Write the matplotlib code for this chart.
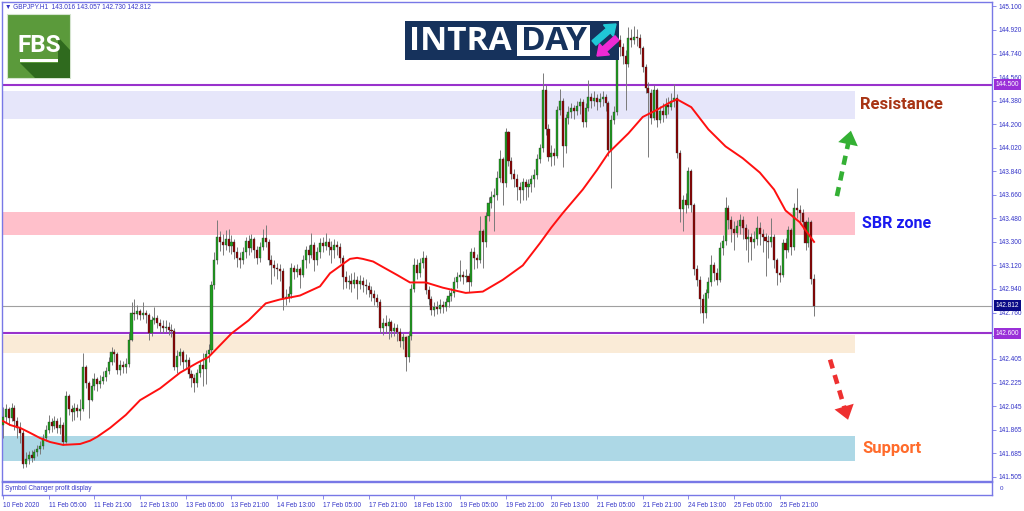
import numpy as np
import matplotlib
matplotlib.use('Agg')
import matplotlib.pyplot as plt
from matplotlib.patches import Rectangle, Polygon, FancyArrow
from matplotlib.transforms import blended_transform_factory

plt.rcParams['font.family'] = ['Liberation Sans', 'DejaVu Sans']

# ---- GBPJPY H1 candles, open of bar i = close of bar i-1
first_open = 141.90
closes = [
    141.96, 142.02, 141.95, 142.03, 141.93, 141.88, 141.84, 141.60, 141.64, 141.67,
    141.65, 141.69, 141.72, 141.74, 141.80, 141.86, 141.92, 141.89, 141.93, 141.88,
    141.90, 141.77, 142.12, 142.02, 142.00, 142.03, 142.01, 142.02, 142.34, 142.22,
    142.09, 142.20, 142.25, 142.21, 142.24, 142.27, 142.31, 142.38, 142.46, 142.44,
    142.32, 142.36, 142.34, 142.37, 142.55, 142.76, 142.75, 142.77, 142.74, 142.76,
    142.74, 142.60, 142.70, 142.72, 142.68, 142.66, 142.64, 142.65, 142.63, 142.62,
    142.34, 142.43, 142.46, 142.38, 142.40, 142.29, 142.26, 142.22, 142.30, 142.36,
    142.33, 142.44, 142.47, 142.97, 143.16, 143.34, 143.30, 143.28, 143.32, 143.27,
    143.30, 143.22, 143.18, 143.16, 143.22, 143.31, 143.25, 143.32, 143.24, 143.18,
    143.26, 143.33, 143.30, 143.16, 143.12, 143.10, 143.09, 143.08, 142.87, 142.88,
    142.90, 143.10, 143.07, 143.09, 143.05, 143.16, 143.24, 143.20, 143.28, 143.16,
    143.22, 143.29, 143.27, 143.30, 143.26, 143.24, 143.28, 143.26, 143.18, 143.03,
    142.99, 143.00, 142.98, 143.01, 142.98, 143.00, 142.97, 142.96, 142.93, 142.90,
    142.87, 142.84, 142.64, 142.68, 142.66, 142.69, 142.62, 142.64, 142.61, 142.54,
    142.57, 142.42, 142.58, 142.94, 143.12, 143.06, 143.14, 143.18, 142.93, 142.86,
    142.78, 142.80, 142.79, 142.82, 142.80, 142.84, 142.89, 142.91, 142.99, 143.03,
    143.05, 143.03, 143.04, 142.99, 143.22, 143.18, 143.16, 143.38, 143.30, 143.50,
    143.60, 143.64, 143.66, 143.79, 143.93, 143.75, 144.14, 143.92, 143.82, 143.78,
    143.72, 143.70, 143.76, 143.72, 143.74, 143.78, 143.81, 143.93, 144.02, 144.46,
    144.16, 143.95, 143.98, 143.96, 144.31, 144.38, 144.03, 144.25, 144.29, 144.32,
    144.30, 144.34, 144.37, 144.22, 144.32, 144.41, 144.38, 144.40, 144.37, 144.39,
    144.41, 144.36, 144.00, 144.23, 144.29, 144.84, 144.79, 144.72, 144.66, 144.86,
    144.84, 144.87, 144.86, 144.78, 144.64, 144.48, 144.44, 144.25, 144.46, 144.23,
    144.30, 144.27, 144.35, 144.33, 144.38, 144.40, 143.98, 143.55, 143.62, 143.58,
    143.84, 143.58, 143.09, 143.01, 142.86, 142.76, 142.91, 142.99, 143.12, 143.06,
    143.01, 143.25, 143.31, 143.56, 143.47, 143.40, 143.37, 143.42, 143.47, 143.41,
    143.32, 143.34, 143.30, 143.32, 143.41, 143.36, 143.34, 143.31, 143.30, 143.34,
    143.16, 143.06, 143.05, 143.29, 143.24, 143.39, 143.26, 143.56, 143.54, 143.52,
    143.45, 143.29, 143.45, 143.016, 142.812,
]
highs = [
    142.04, 142.06, 142.04, 142.07, 142.05, 141.96, 141.92, 141.86, 141.69, 141.70,
    141.71, 141.72, 141.75, 141.78, 141.83, 141.90, 141.98, 141.95, 141.97, 141.95,
    141.96, 141.92, 142.16, 142.14, 142.05, 142.07, 142.06, 142.10, 142.45, 142.36,
    142.24, 142.26, 142.30, 142.27, 142.28, 142.31, 142.34, 142.42, 142.50, 142.48,
    142.46, 142.40, 142.39, 142.41, 142.60, 142.84, 142.86, 142.82, 142.79, 142.84,
    142.78, 142.76, 142.73, 142.80, 142.74, 142.71, 142.70, 142.70, 142.69, 142.67,
    142.64, 142.47, 142.49, 142.47, 142.44, 142.42, 142.32, 142.29, 142.33, 142.39,
    142.45, 142.47, 142.52, 143.00, 143.22, 143.47, 143.38, 143.36, 143.39, 143.40,
    143.35, 143.32, 143.26, 143.22, 143.26, 143.34, 143.35, 143.36, 143.34, 143.27,
    143.30, 143.40, 143.43, 143.32, 143.20, 143.16, 143.14, 143.13, 143.10, 142.94,
    142.96, 143.14, 143.12, 143.13, 143.11, 143.20, 143.27, 143.28, 143.37, 143.30,
    143.26, 143.33, 143.34, 143.37, 143.33, 143.31, 143.32, 143.31, 143.29, 143.20,
    143.08, 143.05, 143.06, 143.07, 143.04, 143.05, 143.03, 143.02, 142.99, 142.96,
    142.93, 142.90, 142.86, 142.72, 142.74, 142.72, 142.70, 142.68, 142.67, 142.64,
    142.60, 142.58, 142.62, 142.98, 143.18, 143.17, 143.18, 143.23, 143.20, 142.96,
    142.89, 142.84, 142.85, 142.86, 142.85, 142.87, 142.93, 142.95, 143.03, 143.07,
    143.16, 143.08, 143.09, 143.06, 143.25, 143.26, 143.21, 143.50, 143.40, 143.53,
    143.64, 143.69, 143.71, 143.84, 144.00, 143.95, 144.17, 144.15, 143.95, 143.86,
    143.82, 143.76, 143.79, 143.78, 143.78, 143.81, 143.86, 143.97, 144.05, 144.59,
    144.50, 144.20, 144.04, 144.02, 144.34, 144.47, 144.40, 144.28, 144.34, 144.36,
    144.35, 144.38, 144.40, 144.39, 144.36, 144.54, 144.44, 144.45, 144.43, 144.44,
    144.45, 144.43, 144.38, 144.27, 144.34, 144.90, 144.88, 144.82, 144.77, 144.94,
    144.93, 144.95, 144.93, 144.89, 144.80, 144.66, 144.52, 144.47, 144.50, 144.48,
    144.34, 144.36, 144.40, 144.41, 144.44, 144.51, 144.43, 144.00, 143.66, 143.67,
    143.87, 143.86, 143.60, 143.12, 143.04, 142.90, 142.94, 143.03, 143.20, 143.15,
    143.10, 143.30, 143.35, 143.64, 143.58, 143.50, 143.46, 143.47, 143.51, 143.50,
    143.44, 143.40, 143.37, 143.38, 143.50, 143.45, 143.40, 143.37, 143.35, 143.48,
    143.36, 143.18, 143.12, 143.32, 143.33, 143.42, 143.41, 143.60, 143.71, 143.58,
    143.55, 143.47, 143.49, 143.47, 143.057,
]
lows = [
    141.80, 141.92, 141.90, 141.93, 141.86, 141.80, 141.76, 141.57, 141.58, 141.60,
    141.62, 141.63, 141.66, 141.68, 141.72, 141.78, 141.84, 141.85, 141.87, 141.84,
    141.83, 141.75, 141.76, 141.98, 141.93, 141.94, 141.96, 141.94, 142.01, 142.18,
    141.95, 142.08, 142.17, 142.16, 142.18, 142.21, 142.24, 142.29, 142.36, 142.38,
    142.29, 142.28, 142.30, 142.30, 142.34, 142.54, 142.70, 142.71, 142.70, 142.71,
    142.68, 142.55, 142.58, 142.67, 142.64, 142.61, 142.60, 142.61, 142.59, 142.57,
    142.32, 142.30, 142.36, 142.33, 142.33, 142.26, 142.19, 142.15, 142.19, 142.27,
    142.20, 142.21, 142.38, 142.44, 142.94, 143.13, 143.23, 143.20, 143.24, 143.22,
    143.21, 143.17, 143.11, 143.10, 143.13, 143.18, 143.20, 143.22, 143.18, 143.13,
    143.15, 143.24, 143.26, 143.12, 142.98, 143.04, 143.02, 143.00, 142.78, 142.82,
    142.84, 142.87, 143.02, 143.03, 142.95, 143.03, 143.10, 143.14, 143.18, 143.08,
    143.12, 143.18, 143.22, 143.24, 143.20, 143.14, 143.18, 143.20, 143.14, 142.94,
    142.95, 142.94, 142.92, 142.95, 142.86, 142.94, 142.92, 142.90, 142.88, 142.85,
    142.82, 142.80, 142.60, 142.59, 142.60, 142.56, 142.57, 142.58, 142.54, 142.50,
    142.48, 142.31, 142.38, 142.55, 142.92, 143.02, 143.03, 143.10, 142.90, 142.82,
    142.74, 142.73, 142.75, 142.76, 142.76, 142.77, 142.80, 142.85, 142.88, 142.95,
    143.00, 142.98, 142.99, 142.92, 142.96, 143.09, 143.10, 143.14, 143.10, 143.26,
    143.46, 143.56, 143.38, 143.62, 143.76, 143.58, 143.72, 143.88, 143.78, 143.72,
    143.62, 143.60, 143.62, 143.62, 143.64, 143.68, 143.72, 143.78, 143.90, 143.99,
    144.12, 143.92, 143.88, 143.89, 143.94, 144.27, 143.87, 143.98, 144.20, 144.25,
    144.24, 144.27, 144.28, 144.18, 144.18, 144.30, 144.32, 144.34, 144.31, 144.33,
    144.34, 144.30, 143.96, 143.71, 144.20, 144.27, 144.72, 144.66, 144.31, 144.64,
    144.79, 144.81, 144.80, 144.74, 144.60, 144.44, 143.95, 144.20, 144.23, 144.18,
    144.21, 144.22, 144.25, 144.28, 144.31, 144.33, 143.94, 143.45, 143.38, 143.52,
    143.56, 143.53, 143.05, 142.96, 142.76, 142.68, 142.72, 142.87, 142.96, 143.00,
    142.97, 142.99, 143.20, 143.28, 143.40, 143.30, 143.24, 143.34, 143.36, 143.32,
    143.24, 143.15, 143.16, 143.25, 143.28, 143.28, 143.22, 143.04, 143.18, 143.26,
    143.10, 142.97, 142.99, 143.03, 143.18, 143.22, 143.20, 143.24, 143.48, 143.44,
    143.40, 143.24, 143.26, 142.98, 142.730,
]

# moving average (red line), read at a set of bars
ma_bar = [0, 2.5, 6, 9.5, 13, 16.5, 21, 27, 30.5, 33,
          37.5, 43, 48, 55, 62, 68, 72, 80, 86, 92,
          97, 104, 111, 114.5, 118, 121.5, 124, 126, 129.6, 133,
          138, 142.5, 148, 154, 162, 168, 175, 182, 188, 192,
          196, 203, 208, 212, 219, 224, 229, 233, 236, 241,
          247, 253, 259, 265, 270, 274, 279, 284]
ma_val = [141.93, 141.90, 141.878, 141.84, 141.80, 141.77, 141.748, 141.755, 141.78, 141.81,
          141.878, 141.977, 142.09, 142.18, 142.30, 142.375, 142.42, 142.60, 142.70, 142.83,
          142.86, 142.89, 142.96, 143.06, 143.115, 143.17, 143.178, 143.17, 143.15, 143.108,
          143.047, 142.99, 142.99, 142.95, 142.91, 142.92, 143.01, 143.12, 143.29, 143.41,
          143.52, 143.70, 143.85, 143.98, 144.13, 144.255, 144.31, 144.36, 144.39, 144.33,
          144.16, 144.03, 143.94, 143.83, 143.70, 143.54, 143.45, 143.30]

# zones and levels
resistance_zone = (144.240, 144.454)
sbr_zone = (143.353, 143.530)
peach_zone = (142.451, 142.589)
support_zone = (141.625, 141.816)
level_high = 144.500
level_low = 142.600
last_price = 142.812

ytick_vals = [145.100, 144.920, 144.740, 144.560, 144.380, 144.200, 144.020, 143.840,
              143.660, 143.480, 143.300, 143.120, 142.940, 142.760, 142.580, 142.405,
              142.225, 142.045, 141.865, 141.685, 141.505]
# the 142.580 label sits under the 142.600 level box
ytick_text = ['%.3f' % v if v != 142.580 else '' for v in ytick_vals]
xtick_labels = ['10 Feb 2020', '11 Feb 05:00', '11 Feb 21:00', '12 Feb 13:00',
                '13 Feb 05:00', '13 Feb 21:00', '14 Feb 13:00', '17 Feb 05:00',
                '17 Feb 21:00', '18 Feb 13:00', '19 Feb 05:00', '19 Feb 21:00',
                '20 Feb 13:00', '21 Feb 05:00', '21 Feb 21:00', '24 Feb 13:00',
                '25 Feb 05:00', '25 Feb 21:00']
xtick_bars = list(range(0, 16 * len(xtick_labels), 16))

frame_c = '#7878e6'
text_c = '#3434c8'

W, H = 1024, 511
fig = plt.figure(figsize=(W / 100, H / 100), dpi=100)


def px_axes(x0, y0, x1, y1, **kw):
    return fig.add_axes([x0 / W, 1 - y1 / H, (x1 - x0) / W, (y1 - y0) / H], **kw)


ax = px_axes(2, 2, 992, 481)
xlim = (-0.35, 346.3)
ylim = (141.472, 145.134)
ax.set_xlim(xlim)
ax.set_ylim(ylim)

c = np.array(closes)
o = np.array([first_open] + closes[:-1])
hi = np.array(highs)
lo = np.array(lows)
x = np.arange(len(c))

# zones
zone_right = 298.3
for (z0, z1), col in [(resistance_zone, '#e6e6fa'), (sbr_zone, '#ffc0cb'),
                      (peach_zone, '#faebd7'), (support_zone, '#add8e6')]:
    ax.fill_between([xlim[0], zone_right], z0, z1, color=col, lw=0, zorder=0.5)

ax.axhline(level_high, color='#9932cc', lw=1.5, zorder=1.5)
ax.axhline(level_low, color='#9932cc', lw=1.5, zorder=1.5)
ax.axhline(last_price, color='#a0a0a0', lw=0.8, zorder=1.4)

# candles
ax.vlines(x, lo, hi, colors='#7a7a7a', lw=0.7, zorder=2)
up = c >= o
body = np.maximum(np.abs(c - o), 0.006)
ax.bar(x, body, bottom=np.minimum(o, c), width=0.72,
       color=np.where(up, '#1e9e1e', '#8e0000'), edgecolor='#303030', linewidth=0.25,
       zorder=3)

ax.plot(ma_bar, ma_val, color='#ff1010', lw=1.4, zorder=4, solid_joinstyle='round')

# labels of the zones
ax.text(300.1, np.mean(resistance_zone), 'Resistance', family='Roboto', fontweight='bold',
        fontsize=12, color='#a83414', va='center', ha='left', zorder=6)
ax.text(300.8, np.mean(sbr_zone), 'SBR zone', family='Roboto', fontweight='bold',
        fontsize=11.5, color='#1a1af0', va='center', ha='left', zorder=6)
ax.text(300.8, np.mean(support_zone), 'Support', family='Roboto', fontweight='bold',
        fontsize=12, color='#ff6b2b', va='center', ha='left', zorder=6)


def dashed_arrow(x0, y0, x1, y1, col):
    xm, ym = x0 + 0.84 * (x1 - x0), y0 + 0.84 * (y1 - y0)
    ax.plot([x0, xm], [y0, ym], color=col, lw=3.3, ls=(0, (2.0, 1.5)), zorder=6,
            solid_capstyle='butt', dash_capstyle='butt')
    ax.annotate('', xy=(x1, y1), xytext=(xm, ym), zorder=6,
                arrowprops=dict(arrowstyle='-|>,head_length=0.55,head_width=0.4',
                                color=col, lw=0, mutation_scale=18, shrinkA=0, shrinkB=0))


dashed_arrow(292.0, 143.65, 296.9, 144.15, '#34b034')
dashed_arrow(289.6, 142.40, 295.9, 141.94, '#ee3030')

# axes styling
for s in ax.spines.values():
    s.set_color(frame_c)
    s.set_linewidth(1.0)
ax.set_xticks([])
ax.yaxis.tick_right()
ax.set_yticks(ytick_vals)
ax.set_yticklabels(ytick_text)
ax.tick_params(axis='y', direction='out', length=3, width=0.6, color=frame_c,
               labelcolor=text_c, labelsize=4.7, pad=1.5)

tr = blended_transform_factory(ax.transAxes, ax.transData)
for val, fc in [(level_high, '#9a30d8'), (level_low, '#9a30d8'), (last_price, '#0a0a86')]:
    ax.text(1.0035, val, '%.3f' % val, transform=tr, ha='left', va='center', fontsize=4.7,
            color='white', zorder=10, clip_on=False,
            bbox=dict(boxstyle='square,pad=0.3', fc=fc, ec='none'))

# sub window with the time axis
sub = px_axes(2, 482, 992, 495)
sub.set_xlim(xlim)
sub.set_ylim(0, 1)
for s in sub.spines.values():
    s.set_color(frame_c)
    s.set_linewidth(1.0)
sub.set_yticks([])
sub.set_xticks(xtick_bars)
sub.set_xticklabels(xtick_labels, ha='left')
sub.tick_params(axis='x', direction='out', length=3, width=0.6, color=frame_c,
                labelcolor=text_c, labelsize=4.7, pad=2)
sub.text(0.003, 0.5, 'Symbol Changer profit display', transform=sub.transAxes,
         fontsize=4.7, color=text_c, va='center', ha='left')
sub.text(1.008, 0.5, '0', transform=sub.transAxes, fontsize=4.5, color=text_c,
         va='center', ha='left', clip_on=False)

# overlay in pixel units for header and logos
ov = fig.add_axes([0, 0, 1, 1], zorder=5)
ov.set_xlim(0, W)
ov.set_ylim(H, 0)
ov.axis('off')
ov.patch.set_alpha(0)

ov.text(5, 7.5, '\u25bc GBPJPY.H1  143.016 143.057 142.730 142.812', fontsize=4.7,
        color=text_c, va='center', ha='left')

# FBS logo
ov.add_patch(Rectangle((6.5, 14), 63.5, 64, facecolor='#5b9a3b', edgecolor='#d5e4cf', lw=0.8))
ov.add_patch(Polygon([(20, 63), (35, 78), (70, 78), (70, 50), (58, 37), (58, 63)],
                     closed=True, facecolor='#2f6a1e', edgecolor='none'))
ov.text(39, 45, 'FBS', family='Roboto', fontweight='bold', fontsize=17.5, color='white',
        ha='center', va='center')
ov.add_patch(Rectangle((20, 59.5), 38, 3, facecolor='white', edgecolor='none'))

# INTRADAY logo
ov.add_patch(Rectangle((405, 21), 214, 39, facecolor='#16325c', edgecolor='none'))
ov.text(409, 41.5, 'INTRA', family='Open Sans', fontweight='bold', fontsize=24, color='white',
        ha='left', va='center')
ov.add_patch(Rectangle((517, 25.5), 73, 30.5, facecolor='white', edgecolor='none'))
ov.text(553.5, 41.5, 'DAY', family='Open Sans', fontweight='bold', fontsize=24, color='#16325c',
        ha='center', va='center')
ov.add_patch(FancyArrow(594, 43, 22, -19, width=6, head_width=15, head_length=10,
                        length_includes_head=True, color='#20c8d6'))
ov.add_patch(FancyArrow(617, 38, -20, 18, width=6, head_width=15, head_length=10,
                        length_includes_head=True, color='#ee2ad4'))

fig.savefig('out.png', dpi=100, facecolor='white')
